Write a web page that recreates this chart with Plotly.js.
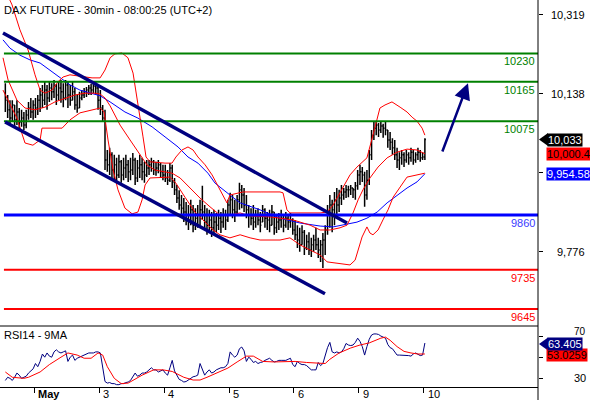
<!DOCTYPE html>
<html><head><meta charset="utf-8">
<script src="https://cdn.plot.ly/plotly-3.0.1.min.js"></script>
<style>html,body{margin:0;padding:0;background:#fff;overflow:hidden}#chart{width:590px;height:400px}</style>
</head><body><div id="chart"></div>
<script>
// ---------- DATA ----------
const title = "DAX FUTURE - 30min - 08:00:25 (UTC+2)";
const dayLabels = ["May", "3", "4", "5", "6", "9", "10"];
const dayStart = [13, 41, 69, 97, 125, 153, 181];   // bar index of first bar of each day

const opens = [10140,10123,10101,10082,10112,10078,10096,10073,10082,10066,10089,10105,10096,
10112,10105,10123,10135,10123,10146,10128,10151,10142,10155,10135,10151,10142,10128,10158,10135,10123,10142,10112,10105,10128,10135,10142,10146,10151,10146,10155,10151,
10123,10105,10082,9986,9975,9998,9963,9975,9952,9982,9952,9968,9975,9959,9963,9986,9945,9968,9975,9959,9952,9968,9975,9982,9963,9968,9975,9959,
9952,9945,9940,9968,9936,9918,9899,9883,9876,9867,9860,9849,9872,9837,9853,9860,9872,9867,9844,9837,9849,9831,9844,9837,9853,9844,9860,9849,
9883,9895,9872,9867,9895,9918,9906,9883,9872,9860,9853,9844,9860,9849,9844,9872,9853,9849,9837,9867,9831,9844,9849,9853,9837,9853,9844,9849,
9826,9815,9803,9792,9821,9785,9799,9780,9792,9803,9792,9780,9792,9803,9826,9860,9883,9872,9895,9883,9899,9906,9913,9918,9918,9922,9918,9927,
9952,9959,9952,9906,9940,9998,10043,10059,10066,10055,10064,10059,10055,10032,10027,10014,9998,9986,9991,9998,9986,9998,9991,10004,9986,9998,10004,9991,9993];
const highs = [10162,10135,10123,10123,10112,10123,10105,10101,10096,10101,10119,10128,10123,
10128,10135,10151,10158,10165,10158,10165,10162,10169,10160,10165,10169,10162,10169,10165,10158,10165,10151,10135,10142,10146,10151,10153,10158,10160,10162,10165,10158,
10146,10112,10101,10009,10014,10004,9998,9991,9998,9986,9991,9998,9986,9991,10002,9991,9986,9998,9991,9982,9986,9986,9991,9986,9982,9986,9979,9975,
9975,9963,9979,9975,9945,9929,9917,9906,9899,9890,9883,9895,9883,9876,9883,9895,9927,9883,9876,9872,9867,9872,9865,9872,9867,9876,9872,9895,
9911,9906,9895,9906,9934,9929,9922,9906,9883,9876,9883,9872,9876,9867,9883,9876,9867,9872,9883,9867,9860,9865,9872,9860,9867,9860,9865,9853,
9849,9837,9831,9837,9826,9815,9821,9808,9815,9831,9808,9803,9819,9837,9883,9906,9895,9913,9922,9918,9929,9922,9929,9927,9929,9922,9936,9963,
9975,9970,9959,9963,10009,10055,10073,10073,10071,10073,10069,10073,10055,10050,10036,10032,10014,10004,10009,10004,10009,10004,10014,10009,10004,10014,10009,10004,10036];
const lows = [10096,10082,10066,10073,10062,10066,10059,10062,10055,10059,10078,10082,10078,
10082,10089,10096,10105,10112,10101,10119,10123,10128,10112,10123,10117,10107,10123,10105,10110,10123,10101,10094,10105,10123,10128,10130,10135,10135,10139,10135,10101,
10089,10073,9963,9959,9952,9945,9940,9936,9945,9934,9940,9945,9936,9940,9952,9929,9936,9945,9940,9934,9947,9952,9959,9952,9950,9956,9945,9940,
9936,9929,9936,9922,9906,9888,9872,9860,9844,9837,9826,9837,9821,9826,9831,9837,9849,9826,9815,9821,9810,9815,9821,9826,9819,9831,9826,9844,
9860,9853,9844,9860,9872,9876,9867,9853,9831,9837,9826,9831,9837,9821,9844,9831,9826,9821,9837,9815,9819,9826,9831,9821,9831,9826,9831,9815,
9803,9785,9776,9792,9769,9780,9769,9764,9776,9780,9762,9753,9739,9769,9815,9831,9821,9837,9860,9867,9883,9895,9899,9901,9906,9899,9895,9918,
9929,9936,9879,9895,9929,9986,10032,10043,10039,10048,10037,10043,10014,10009,9998,9986,9968,9963,9975,9970,9980,9975,9982,9975,9980,9986,9982,9986,9986];
const closes = [10123,10101,10082,10112,10078,10096,10073,10082,10066,10089,10105,10096,10112,
10105,10123,10135,10123,10146,10128,10151,10142,10155,10135,10151,10142,10128,10158,10135,10123,10142,10112,10105,10128,10135,10142,10146,10151,10146,10155,10151,10123,
10105,10082,9986,9975,9998,9963,9975,9952,9982,9952,9968,9975,9959,9963,9986,9945,9968,9975,9959,9952,9968,9975,9982,9963,9968,9975,9959,9952,
9945,9940,9968,9936,9918,9899,9883,9876,9867,9860,9849,9872,9837,9853,9860,9872,9867,9844,9837,9849,9831,9844,9837,9853,9844,9860,9849,9883,
9895,9872,9867,9895,9918,9906,9883,9872,9860,9853,9844,9860,9849,9837,9872,9853,9849,9837,9867,9831,9844,9849,9853,9837,9853,9844,9849,9826,
9815,9803,9792,9821,9785,9799,9780,9792,9803,9792,9780,9792,9803,9826,9860,9883,9872,9895,9883,9899,9906,9913,9918,9918,9922,9918,9927,9952,
9959,9952,9906,9940,9998,10043,10059,10066,10055,10064,10059,10055,10032,10027,10014,9998,9986,9991,9998,9986,9998,9991,10004,9986,9998,10004,9991,9993,10033];

// Bollinger bands (red) and moving average (blue), read at sample bars
const upperIdx = [0,2.9,6.3,9.8,12.8,15,17.1,20.1,22.7,24.9,27.9,32.2,37.4,40.9,43,45.2,47.3,50.3,52.9,55.1,56.8,58.1,59.4,60.7,62.4,68.9,71.9,73.6,76.2,78.8,81,83.1,86.2,89.2,92.6,95.6,96.9,102.5,118.5,119.8,121.5,122.8,135.8,138.8,141.4,144.4,146.5,148.7,151.7,154.3,156,158.6,160.4,161.6,163.8,166.8,170.3,173.3,175.5,177.6,179.8,181];
const upperVal = [10375,10341,10284,10238,10181,10146,10139,10146,10165,10176,10181,10178,10174,10174,10192,10220,10229,10231,10220,10185,10130,10085,10039,9993,9982,9979,9979,9993,10009,10016,10009,9993,9975,9952,9918,9888,9906,9913,9913,9911,9872,9865,9865,9867,9883,9911,9933,9952,9970,9982,9991,10043,10078,10105,10112,10119,10107,10096,10084,10075,10059,10043];
const midIdx = [-1,1.2,5,8.5,12.8,17.1,21.4,25.8,30.1,34.4,38.7,40.9,43,45.2,47.3,49.5,53.8,58.1,61.1,64.6,68.9,71.9,75.4,79.7,84,88.3,92.6,96.9,101.3,105.6,114.2,124.1,131.5,135.8,140.1,144.4,147.4,150,152.2,154.3,157.3,160.8,164.7,169,173.3,177.6,181];
const midVal = [10220,10169,10123,10105,10101,10107,10119,10128,10135,10139,10139,10137,10128,10110,10089,10066,10032,9998,9975,9963,9959,9956,9945,9922,9899,9879,9860,9860,9865,9858,9856,9849,9837,9826,9826,9831,9837,9865,9895,9918,9945,9970,9991,10004,10011,10009,10000.4];
const lowerIdx = [-1,1.2,5,8.5,11.9,15,15.8,24.5,27.9,32.2,40.9,42.6,44.3,46.5,48.6,51.6,54.7,57.2,59,60.3,62.4,71.1,73.6,77.5,81.8,86.2,89.6,92.6,96.9,101.3,105.6,109.9,118.5,122.8,127.1,131.5,135.8,138.8,144.4,148.7,150.9,152.2,153.9,156,157.3,158.6,160.8,162.9,165.1,167.3,170.3,173.3,177.6,181];
const lowerVal = [10146,10123,10082,10025,10020,10032,10059,10059,10078,10094,10105,10096,10032,9963,9918,9876,9863,9867,9895,9929,9945,9947,9933,9901,9867,9844,9826,9815,9808,9815,9808,9803,9803,9808,9792,9780,9769,9753,9750,9746,9757,9780,9810,9833,9819,9815,9826,9849,9872,9901,9924,9947,9952,9956];
const maIdx = [-1,2,6.3,10.7,15,19.3,23.6,27.9,32.2,36.5,40.9,45.2,51.6,57.2,63.3,68.9,74.5,78.8,83.1,87.4,90.5,96.9,101.3,109.9,118.5,127.1,135.8,141.4,147.4,151.7,156,160.4,164.7,169,173.3,177.6,181];
const maVal = [10261,10242,10226,10215,10208,10192,10176,10158,10146,10139,10133,10119,10096,10082,10062,10039,10016,9993,9979,9956,9933,9906,9888,9872,9853,9842,9835,9833,9840,9844,9853,9867,9888,9906,9922,9936,9954.58];

// RSI14 per bar and its 9-period MA (read at sample bars)
const rsi = [28,31,30,28,31,35,33,30,31,32,35,37,39,
44,41,46,53,50,54,51,50,55,57,55,54,55,56,46,50,52,47,49,50,51,52,53,54,54,54,55,55,
54,38,27,25.5,26,25,25,24,24,25,25,26,26.5,28,31,35,32,33,35,35,36,38,40,38,38,36,37,38,
35,33,40,47,37,33,29,28,26.5,27,28.4,30,31.5,32,33,44,38,33,36,38,35,36,38,39,40,40,41,44,
55,52,50,52,58,59.6,56,46,50,48,45,46,44,45,45.5,47,48,49,47,45.5,46,47,47,47,47,48,49,43,
41,46,44,43,43,42,40,38,38,38,45,42,44,53,59,64,55,54,55,54,55,58,63,61.5,61,61.5,64,68,
65,60,52,60,67,71,72,72,71.5,70,69,68,62,59,58,55,52,52,52,52,52,51.5,51,53,54,53,51.5,52,63.405];
const rsiMaIdx = [0,3,8,10,15,19,24,27,31,34,37,40,42,44,47,50,53,55,59,64,68,72,77,81,84,87,91,96,100,104,107,111,116,121,125,130,135,138,140,144,149,153,157,162,164,166,169,172,175,178,181];
const rsiMaVal = [36,31,30,31,36,43,50,54,52,49,49,54,52,41,30,25,25.5,28,33,38,38,36.5,31,28.4,28.4,31,35,39.7,45.5,51,51,46,45.5,45.5,46,45,44,44,48,54,58.7,61.5,63.5,68,69,66,60,55.5,54,53,53.0259];

// Support / resistance levels, trend channel and projection arrow
const levels = [10230, 10165, 10075, 9860, 9735, 9645];
const levelKind = ["res", "res", "res", "pivot", "sup", "sup"];
const channelUpper = [[-1.0, 10276.7], [147.4, 9842]];
const channelLower = [[-0.1, 10073], [137.9, 9680]];
const arrowFrom = [188.3, 10002];
const arrowTo = [199.6, 10162];
const priceTicks = [9776, 9957, 10138, 10319];
const priceTickText = ["9,776", "", "10,138", "10,319"];
const rsiTicks = [30, 50, 70];
const rsiTickText = ["30", "", "70"];

// ---------- CHART ----------
const FONT = "Liberation Sans, Arial, sans-serif";
const PW = 538, PH = 387, SPLIT = 326;          // plot area px
const splitPaper = (PH - SPLIT) / PH;
const px = v => v / PW;                           // x pixel -> paper
const pyPaper = v => (PH - v) / PH;               // y pixel -> paper
const levelColor = {res: "#008000", pivot: "#0000ff", sup: "#ff0000"};
const levelTextColor = {res: "#008000", pivot: "#3a3aff", sup: "#ff0000"};
const levelWidth = {res: 2, pivot: 3, sup: 2};
const idx = closes.map((_, i) => i);

const traces = [
  {type: "scatter", mode: "lines", x: maIdx, y: maVal, line: {color: "#0000ff", width: 1}, hoverinfo: "skip"},
  {type: "scatter", mode: "lines", x: upperIdx, y: upperVal, line: {color: "#ff0000", width: 1}, hoverinfo: "skip"},
  {type: "scatter", mode: "lines", x: midIdx, y: midVal, line: {color: "#ff0000", width: 1}, hoverinfo: "skip"},
  {type: "scatter", mode: "lines", x: lowerIdx, y: lowerVal, line: {color: "#ff0000", width: 1}, hoverinfo: "skip"},
  {type: "ohlc", x: idx, open: opens, high: highs, low: lows, close: closes, tickwidth: 0.45,
   increasing: {line: {color: "#000000", width: 1.5}}, decreasing: {line: {color: "#000000", width: 1.5}}, hoverinfo: "skip"},
  {type: "scatter", mode: "lines", x: idx, y: rsi, yaxis: "y2", line: {color: "#000080", width: 1}, hoverinfo: "skip"},
  {type: "scatter", mode: "lines", x: rsiMaIdx, y: rsiMaVal, yaxis: "y2", line: {color: "#ff0000", width: 1}, hoverinfo: "skip"}
];

const shapes = [];
levels.forEach((lv, k) => {
  shapes.push({type: "line", xref: "x", yref: "y", x0: -0.6, x1: 229.8, y0: lv, y1: lv,
    line: {color: levelColor[levelKind[k]], width: levelWidth[levelKind[k]]}});
});
[channelUpper, channelLower].forEach(c => shapes.push({type: "line", xref: "x", yref: "y",
  x0: c[0][0], y0: c[0][1], x1: c[1][0], y1: c[1][1], line: {color: "#000080", width: 3.5}}));
// panel separator and full-height right axis line
shapes.push({type: "line", xref: "paper", yref: "paper", x0: 0, x1: 1, y0: splitPaper, y1: splitPaper, line: {color: "#000", width: 1}});
shapes.push({type: "line", xref: "paper", yref: "paper", x0: 1, x1: 1, y0: -0.05, y1: 1, line: {color: "#000", width: 1}});

const annotations = [];
annotations.push({xref: "paper", yref: "paper", x: px(2), y: pyPaper(10), xanchor: "left", yanchor: "middle",
  text: title, showarrow: false, font: {family: FONT, size: 11, color: "#000"}});
annotations.push({xref: "paper", yref: "paper", x: px(2), y: pyPaper(335), xanchor: "left", yanchor: "middle",
  text: "RSI14 - 9MA", showarrow: false, font: {family: FONT, size: 11, color: "#000"}});
levels.forEach((lv, k) => annotations.push({xref: "paper", yref: "y", x: px(537), y: lv, yshift: -8,
  xanchor: "right", yanchor: "middle", text: String(lv), showarrow: false,
  font: {family: FONT, size: 11, color: levelTextColor[levelKind[k]]}}));
priceTicks.forEach((t, k) => { if (priceTickText[k]) annotations.push({xref: "paper", yref: "y", x: px(587), y: t,
  xanchor: "right", yanchor: "middle", text: priceTickText[k], showarrow: false, font: {family: FONT, size: 11, color: "#000"}}); });
rsiTicks.forEach((t, k) => { if (rsiTickText[k]) annotations.push({xref: "paper", yref: "y2", x: px(587), y: t,
  yshift: t === 70 ? 5 : 0, xanchor: "right", yanchor: "middle", text: rsiTickText[k], showarrow: false,
  borderpad: 0, font: {family: FONT, size: t === 70 ? 10 : 11, color: "#000"}}); });
dayLabels.forEach((d, k) => annotations.push({xref: "x", yref: "paper", x: dayStart[k] - 0.5, xshift: 2, y: pyPaper(394),
  xanchor: "left", yanchor: "middle", text: k === 0 ? "<b>" + d + "</b>" : d, showarrow: false,
  font: {family: FONT, size: 11, color: "#000"}}));
// arrow
annotations.push({x: arrowTo[0], y: arrowTo[1], ax: arrowFrom[0], ay: arrowFrom[1], xref: "x", yref: "y", axref: "x", ayref: "y",
  text: "", showarrow: true, arrowhead: 2, arrowsize: 1.3, arrowwidth: 2.5, arrowcolor: "#000080", standoff: 0, startstandoff: 0});

// value boxes on the right
const fmt = (v, d) => v.toLocaleString("en-US", {maximumFractionDigits: d});
const lastClose = closes[closes.length - 1];
const lastMid = midVal[midVal.length - 1];
const lastMa = maVal[maVal.length - 1];
const lastRsi = rsi[rsi.length - 1];
const lastRsiMa = rsiMaVal[rsiMaVal.length - 1];
function box(yref, y, text, bg, fg, xpx, yshift) {
  annotations.push({xref: "paper", yref: yref, x: px(xpx), y: y, yshift: yshift || 0, xanchor: "left", yanchor: "middle", text: text,
    showarrow: false, bgcolor: bg, borderpad: 0, font: {family: FONT, size: 11, color: fg}});
}
box("y", lastMid, fmt(lastMid, 1), "#ff0000", "#000", 546);
box("y", lastMa, fmt(lastMa, 2), "#0000ff", "#fff", 546);
box("y", lastClose, fmt(lastClose, 0), "#000000", "#fff", 547);
box("y2", lastRsiMa, String(lastRsiMa), "#ff0000", "#000", 546, -1);
box("y2", lastRsi, String(lastRsi), "#000080", "#fff", 547, -1);
// pointer triangles for the last-value boxes
const ppu = (10352.2 - 9606.3) / SPLIT;      // price per pixel
shapes.push({type: "path", xref: "paper", yref: "y", fillcolor: "#000", line: {width: 0},
  path: `M ${px(539)},${lastClose} L ${px(548)},${lastClose + 6.5 * ppu} L ${px(548)},${lastClose - 6.5 * ppu} Z`});
const rpu = (79.5 - 21.8) / (PH - SPLIT);
shapes.push({type: "path", xref: "paper", yref: "y2", fillcolor: "#000080", line: {width: 0},
  path: `M ${px(539)},${lastRsi - 1 * rpu} L ${px(548)},${lastRsi + 5.5 * rpu} L ${px(548)},${lastRsi - 7.5 * rpu} Z`});

const layout = {
  width: 590, height: 400, margin: {l: 0, r: 52, t: 0, b: 13},
  paper_bgcolor: "#fff", plot_bgcolor: "#fff", showlegend: false,
  xaxis: {range: [-2.3, 229.8], anchor: "y2", showgrid: false, zeroline: false, showline: true, linecolor: "#000", linewidth: 1,
    ticks: "outside", ticklen: 5, tickcolor: "#000", tickvals: dayStart.map(d => d - 0.5), showticklabels: false,
    rangeslider: {visible: false}, fixedrange: true},
  yaxis: {domain: [splitPaper, 1], range: [9606.3, 10352.2], side: "right", anchor: "x", showgrid: false, zeroline: false,
    showline: false, ticks: "outside", ticklen: 4, tickcolor: "#000", tickvals: priceTicks, showticklabels: false, fixedrange: true},
  yaxis2: {domain: [0, splitPaper], range: [21.8, 79.5], side: "right", anchor: "x", showgrid: false, zeroline: false,
    showline: false, ticks: "outside", ticklen: 4, tickcolor: "#000", tickvals: rsiTicks, showticklabels: false, fixedrange: true},
  shapes: shapes, annotations: annotations
};
Plotly.newPlot("chart", traces, layout, {staticPlot: true, displayModeBar: false});
</script></body></html>
